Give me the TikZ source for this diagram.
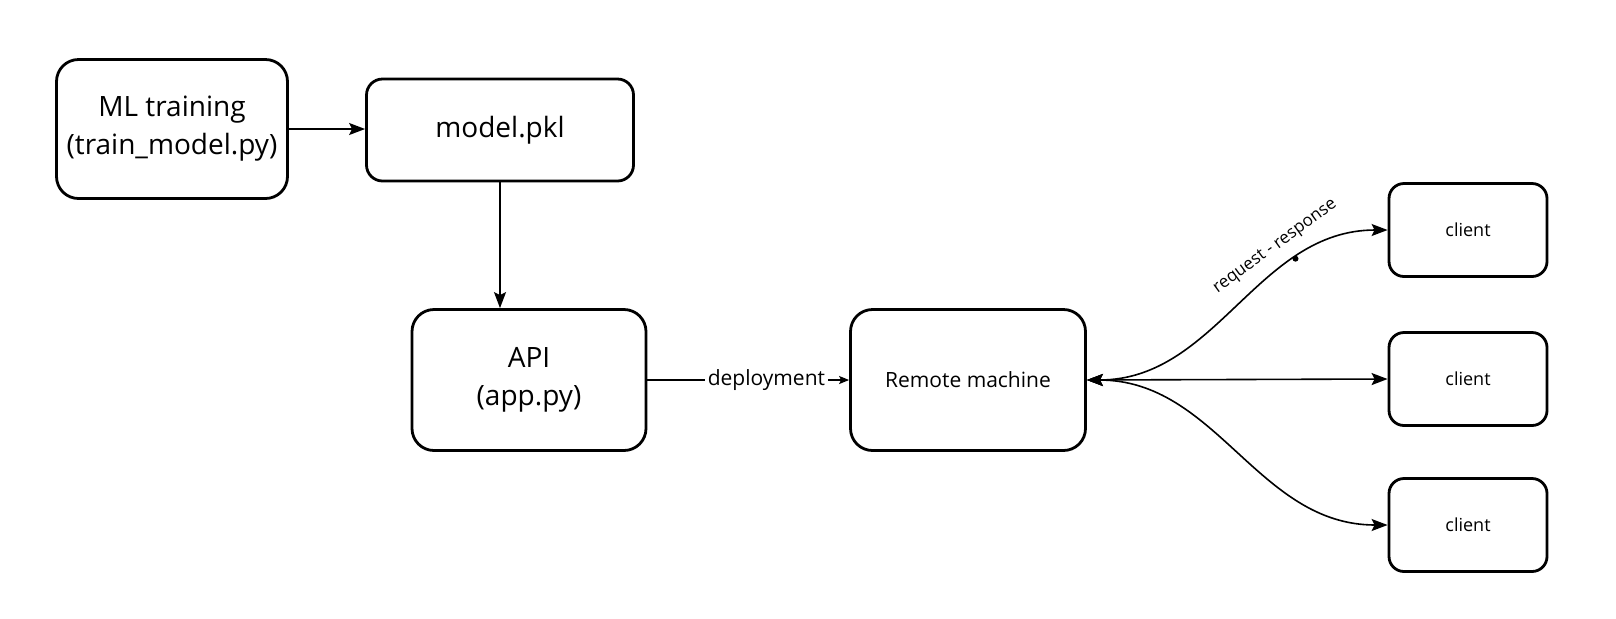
\documentclass[tikz,border=0pt]{standalone}
\usepackage{fontspec}
\setmainfont{Open Sans}
\usetikzlibrary{arrows.meta}
\begin{document}
\begin{tikzpicture}[x=0.5pt,y=-0.5pt,
  box/.style={draw=black,line width=1.4pt,align=center,inner sep=0pt,fill=white},
  conn/.style={draw=black,line width=0.8pt},
  tip/.style={-{Stealth[length=8pt,width=6pt,inset=1.5pt]}},
  smalltip/.style={-{Stealth[length=5pt,width=4pt,inset=1pt]}},
  bitip/.style={{Stealth[length=8pt,width=6pt,inset=1.5pt]}-{Stealth[length=8pt,width=6pt,inset=1.5pt]}},
  big/.style={font=\fontsize{14}{19}\selectfont},
  mid/.style={font=\fontsize{10.5}{13}\selectfont},
  small/.style={font=\fontsize{9}{11}\selectfont}]
\useasboundingbox (0,0) rectangle (1616,618);
\node[box,big,rounded corners=11pt,minimum width=115.5pt,minimum height=69.5pt] (ml) at (172,129) {ML training\\(train\_model.py)};
\node[box,big,rounded corners=8pt,minimum width=133.5pt,minimum height=51pt] (model) at (500,130) {model.pkl};
\node[box,big,rounded corners=11pt,minimum width=117pt,minimum height=70.5pt] (api) at (529,380) {API\\(app.py)};
\node[box,mid,rounded corners=11pt,minimum width=117.5pt,minimum height=70.5pt] (remote) at (968,380) {Remote machine};
\node[box,small,rounded corners=7.5pt,minimum width=79pt,minimum height=46.5pt] (c1) at (1468,230) {client};
\node[box,small,rounded corners=7.5pt,minimum width=79pt,minimum height=46.5pt] (c2) at (1468,379) {client};
\node[box,small,rounded corners=7.5pt,minimum width=79pt,minimum height=46.5pt] (c3) at (1468,525) {client};

\draw[conn,tip] (ml.east) -- (ml.east -| model.west);
\draw[conn,tip] (model.south) -- (model.south |- api.north);
\draw[conn,smalltip] (api.east) -- node[pos=0.59,fill=white,mid,inner sep=1.5pt]{deployment} (remote.west);
\draw[conn,bitip] (remote.east) .. controls +(130,0) and +(-130,0) .. (c1.west)
  node[pos=0.72,circle,fill=black,inner sep=0pt,minimum size=3pt] (dot) {};
\node[rotate=36,font=\fontsize{8.5}{10}\selectfont,inner sep=0pt] (rr) at ([shift={(-20,-12)}]dot) {request - response};
\draw[conn,bitip] (remote.east) -- (c2.west);
\draw[conn,bitip] (remote.east) .. controls +(130,0) and +(-130,0) .. (c3.west);
\end{tikzpicture}
\end{document}
